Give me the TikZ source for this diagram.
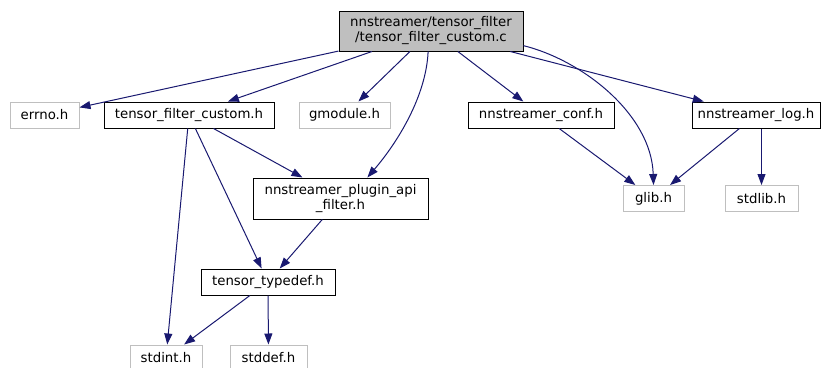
\documentclass[tikz,border=0pt]{standalone}
\usepackage{fontspec}
\setmainfont{DejaVu Sans}
\usetikzlibrary{positioning,arrows.meta}

\definecolor{edgeblue}{RGB}{25,25,112}
\definecolor{sysgray}{RGB}{191,191,191}

\begin{document}
\begin{tikzpicture}[x=1pt, y=-1pt,
  font=\fontsize{13.3}{15}\selectfont,
  file/.style={draw=black, line width=1pt, inner sep=0pt, align=center, minimum height=26pt},
  sysfile/.style={file, draw=sysgray},
  dep/.style={draw=edgeblue, line width=1pt, -{Triangle[length=11pt,width=8pt]}}]
  \useasboundingbox (0,0) rectangle (821,367);
  % files
  \node[file, fill=sysgray, minimum width=184pt, minimum height=40pt] (main) at (431,31)
    {nnstreamer/tensor\_filter\\/tensor\_filter\_custom.c};
  \node[sysfile, minimum width=69pt] (errno) at (44.5,115) {errno.h};
  \node[file, minimum width=170pt] (tfc) at (189,115) {tensor\_filter\_custom.h};
  \node[sysfile, minimum width=91pt] (gmodule) at (344.5,115) {gmodule.h};
  \node[file, minimum width=146pt] (conf) at (541,115) {nnstreamer\_conf.h};
  \node[file, minimum width=128pt] (log) at (756,115) {nnstreamer\_log.h};
  \node[file, minimum width=175pt, minimum height=41pt] (plugin) at (340.5,198.5)
    {nnstreamer\_plugin\_api\\\_filter.h};
  \node[sysfile, minimum width=61pt] (glib) at (653.5,198.5) {glib.h};
  \node[sysfile, minimum width=73pt] (stdlib) at (761.5,198.5) {stdlib.h};
  \node[file, minimum width=134pt] (typedef) at (268,282) {tensor\_typedef.h};
  \node[sysfile, minimum width=72pt] (stdint) at (166,358) {stdint.h};
  \node[sysfile, minimum width=77pt] (stddef) at (268.5,358) {stddef.h};
  % includes
  \draw[dep] (main) -- (errno);
  \draw[dep] (main) -- (tfc);
  \draw[dep] (main) -- (gmodule);
  \draw[dep] (main.-98) .. controls +(-2,45) and +(30,-35) .. (plugin.38);
  \draw[dep] (main) -- (conf);
  \draw[dep] (main.-9) .. controls +(60,15) and +(-2,-70) .. (glib.north);
  \draw[dep] (main) -- (log);
  \draw[dep] (conf) -- (glib);
  \draw[dep] (log) -- (glib);
  \draw[dep] (stdlib.north |- log.south) -- (stdlib);
  \draw[dep] (tfc) -- (stdint);
  \draw[dep] (tfc) -- (typedef);
  \draw[dep] (tfc) -- (plugin);
  \draw[dep] (plugin) -- (typedef);
  \draw[dep] (typedef) -- (stdint);
  \draw[dep] (typedef) -- (stddef);
\end{tikzpicture}
\end{document}
